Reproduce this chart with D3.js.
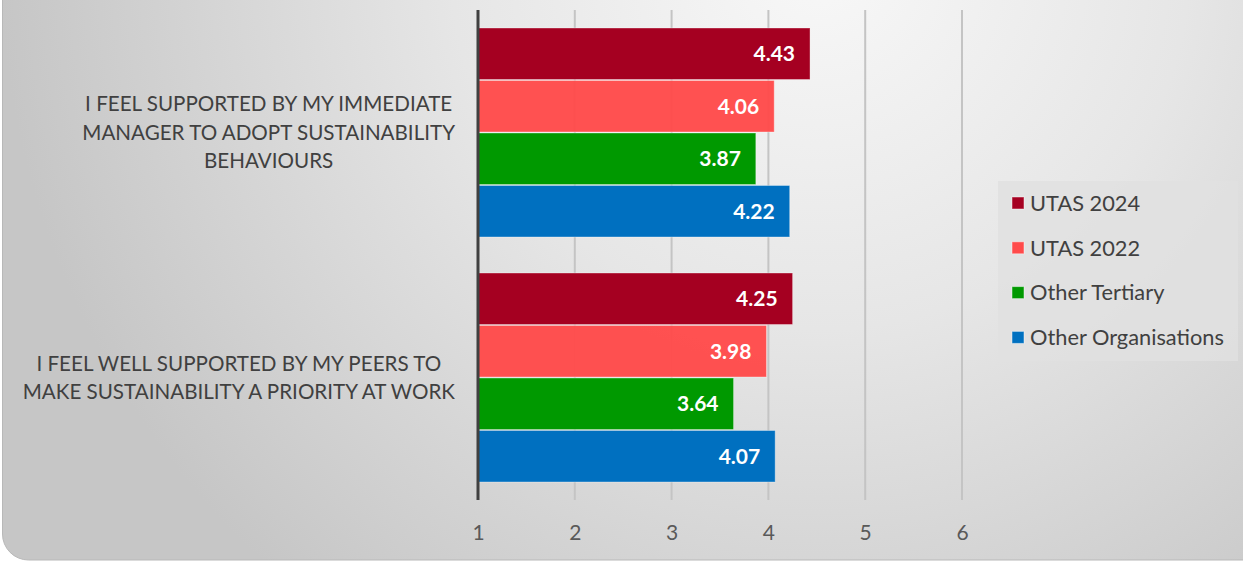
<!DOCTYPE html>
<html>
<head>
<meta charset="utf-8">
<script src="https://cdn.jsdelivr.net/npm/d3@7"></script>
<style>
  html, body { margin: 0; padding: 0; background: #ffffff; }
  svg { display: block; }
</style>
</head>
<body>
<svg id="chart" width="1243" height="562"></svg>
<script>
// Survey statements (categories, top to bottom)
const categories = [
  "I FEEL SUPPORTED BY MY IMMEDIATE MANAGER TO ADOPT SUSTAINABILITY BEHAVIOURS",
  "I FEEL WELL SUPPORTED BY MY PEERS TO MAKE SUSTAINABILITY A PRIORITY AT WORK"
];
const categoryLines = [
  ["I FEEL SUPPORTED BY MY IMMEDIATE", "MANAGER TO ADOPT SUSTAINABILITY", "BEHAVIOURS"],
  ["I FEEL WELL SUPPORTED BY MY PEERS TO", "MAKE SUSTAINABILITY A PRIORITY AT WORK"]
];
// Series (legend order)
const seriesNames = ["UTAS 2024", "UTAS 2022", "Other Tertiary", "Other Organisations"];
const seriesColors = ["#a50021", "#ff4b4b", "#009900", "#0070c0"];
// Mean scores per series, one value per category
const utas2024 = [4.43, 4.25];
const utas2022 = [4.06, 3.98];
const otherTertiary = [3.87, 3.64];
const otherOrganisations = [4.22, 4.07];
const seriesValues = [utas2024, utas2022, otherTertiary, otherOrganisations];
const xTicks = [1, 2, 3, 4, 5, 6];

const W = 1243, H = 562;
const FONT = "Lato, 'Open Sans', sans-serif";
const svg = d3.select("#chart");
const defs = svg.append("defs");

// Background panel with soft radial shading
const grad = defs.append("radialGradient")
  .attr("id", "bg").attr("gradientUnits", "userSpaceOnUse")
  .attr("cx", 820).attr("cy", -40).attr("r", 820);
grad.append("stop").attr("offset", "0%").attr("stop-color", "#f8f8f8");
grad.append("stop").attr("offset", "45%").attr("stop-color", "#e6e6e6");
grad.append("stop").attr("offset", "100%").attr("stop-color", "#c6c6c6");

svg.append("rect").attr("width", W).attr("height", H).attr("fill", "#ffffff");
svg.append("rect")
  .attr("x", 2.5).attr("y", -40).attr("width", W + 40).attr("height", 600)
  .attr("rx", 26).attr("ry", 26)
  .attr("fill", "url(#bg)").attr("stroke", "#b8b8b8").attr("stroke-width", 1);

// Plot geometry
const plot = { left: 478, right: 962, top: 10, bottom: 500 };
const x = d3.scaleLinear().domain([1, 6]).range([plot.left, plot.right]);
const y0 = d3.scaleBand().domain(categories).range([plot.top, plot.bottom])
  .paddingInner(35 / 245).paddingOuter(17.5 / 245);
const y1 = d3.scaleBand().domain(seriesNames).range([0, y0.bandwidth()]);

// Vertical gridlines
svg.append("g").selectAll("line").data(xTicks.slice(1)).join("line")
  .attr("x1", d => x(d)).attr("x2", d => x(d))
  .attr("y1", plot.top).attr("y2", plot.bottom)
  .attr("stroke", "#c4c4c4").attr("stroke-width", 2);

// Bars
const groups = svg.append("g").selectAll("g").data(categories).join("g")
  .attr("transform", c => `translate(0,${y0(c)})`);

groups.each(function (c, ci) {
  const g = d3.select(this);
  seriesNames.forEach((s, si) => {
    const v = seriesValues[si][ci];
    g.append("rect")
      .attr("x", x(1)).attr("y", y1(s) + 0.5)
      .attr("width", x(v) - x(1)).attr("height", y1.bandwidth() - 1)
      .attr("fill", seriesColors[si])
      .attr("fill-opacity", si === 1 ? 0.97 : 1)
      .attr("stroke", "#ffffff").attr("stroke-opacity", 0.35).attr("stroke-width", 1);
    g.append("text")
      .attr("x", x(v) - 15).attr("y", y1(s) + y1.bandwidth() / 2)
      .attr("dy", "0.36em").attr("text-anchor", "end")
      .attr("font-family", FONT)
      .attr("font-weight", "bold").attr("font-size", 21)
      .attr("fill", "#ffffff")
      .text(v.toFixed(2));
  });
});

// Value axis line at 1
svg.append("line")
  .attr("x1", x(1)).attr("x2", x(1)).attr("y1", plot.top).attr("y2", plot.bottom)
  .attr("stroke", "#404040").attr("stroke-width", 3);

// X tick labels
const xAxis = d3.axisBottom(x).tickValues(xTicks).tickSize(0).tickPadding(0)
  .tickFormat(d3.format("d"));
const ax = svg.append("g").attr("transform", `translate(0,${plot.bottom + 27})`).call(xAxis);
ax.select(".domain").remove();
ax.selectAll("text")
  .attr("font-family", FONT).attr("font-size", 21)
  .attr("fill", "#595959").attr("dy", "0.6em");

// Category labels: lines centred within a block right-aligned near the axis
const labelRight = plot.left - 23;
const lineH = 28.5;
const catG = svg.append("g").attr("font-family", FONT)
  .attr("font-size", 20.6).attr("fill", "#404040");
categories.forEach((c, ci) => {
  const lines = categoryLines[ci];
  const tmp = catG.append("g");
  const texts = tmp.selectAll("text").data(lines).join("text").text(d => d);
  let maxW = 0;
  texts.each(function () { maxW = Math.max(maxW, this.getComputedTextLength()); });
  const cx = labelRight - maxW / 2;
  const cy = y0(c) + y0.bandwidth() / 2;
  texts.attr("x", cx).attr("text-anchor", "middle")
    .attr("y", (d, i) => cy + (i - (lines.length - 1) / 2) * lineH)
    .attr("dy", "0.36em");
});

// Legend
const legend = svg.append("g").attr("transform", "translate(998,181)");
legend.append("rect").attr("width", 240).attr("height", 180).attr("fill", "#e0e0e0")
  .attr("fill-opacity", 0.85);
const li = legend.selectAll("g.item").data(seriesNames).join("g")
  .attr("class", "item")
  .attr("transform", (d, i) => `translate(14,${22 + i * 44.8})`);
li.append("rect").attr("x", 0).attr("y", -6).attr("width", 12).attr("height", 12)
  .attr("fill", (d, i) => seriesColors[i])
  .attr("stroke", "#ffffff").attr("stroke-opacity", 0.45).attr("stroke-width", 1);
li.append("text").attr("x", 18).attr("dy", "0.36em")
  .attr("font-family", FONT).attr("font-size", 21.8).attr("fill", "#404040")
  .text(d => d);
</script>
</body>
</html>
